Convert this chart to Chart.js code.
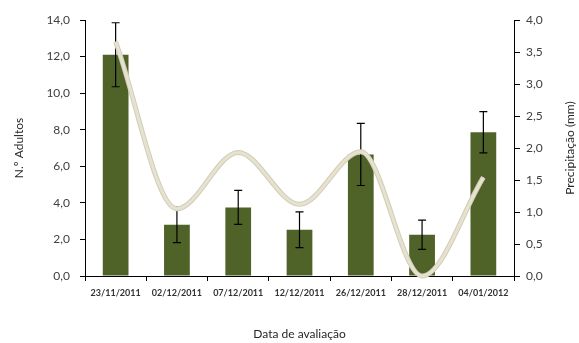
<!DOCTYPE html>
<html>
<head>
<meta charset="utf-8">
<script src="https://cdn.jsdelivr.net/npm/chart.js@4"></script>
<style>
  html, body { margin: 0; padding: 0; background: #fff; }
  #wrap { width: 579px; height: 343px; }
</style>
</head>
<body>
<div id="wrap"><canvas id="grafico" width="579" height="343"></canvas></div>
<script>
// datas de avaliacao
const datas = ['23/11/2011', '02/12/2011', '07/12/2011', '12/12/2011', '26/12/2011', '28/12/2011', '04/01/2012']
// n.º adultos (media) e erro padrao
const adultos = [12.1, 2.8, 3.75, 2.53, 6.65, 2.26, 7.86]
const erro = [1.75, 0.97, 0.93, 0.98, 1.7, 0.8, 1.13]
// precipitacao (mm)
const precipitacao = [3.66, 1.05, 1.93, 1.12, 1.94, 0.0, 1.54]

const virgula = v => Number(v).toFixed(1).replace('.', ',')
const fonte = 'Lato, "Open Sans", sans-serif'

// desenha as barras de erro depois das barras
const barrasErro = {
    id: 'barrasErro',
    afterDatasetDraw(chart, args) {
        if (args.index !== 0) return
        const ctx = chart.ctx
        const y = chart.scales.y
        ctx.save()
        ctx.strokeStyle = '#000'
        ctx.lineWidth = 1.2
        args.meta.data.forEach((bar, i) => {
            const top = y.getPixelForValue(adultos[i] + erro[i])
            const bot = y.getPixelForValue(adultos[i] - erro[i])
            ctx.beginPath()
            ctx.moveTo(bar.x, top); ctx.lineTo(bar.x, bot)
            ctx.moveTo(bar.x - 4, top); ctx.lineTo(bar.x + 4, top)
            ctx.moveTo(bar.x - 4, bot); ctx.lineTo(bar.x + 4, bot)
            ctx.stroke()
        })
        ctx.restore()
    }
}

// titulo do eixo direito, lido de baixo para cima como no original
const tituloDireito = {
    id: 'tituloDireito',
    afterDraw(chart) {
        const ctx = chart.ctx
        const area = chart.chartArea
        ctx.save()
        ctx.translate(570, (area.top + area.bottom) / 2)
        ctx.rotate(-Math.PI / 2)
        ctx.font = '12px ' + fonte
        ctx.fillStyle = '#262626'
        ctx.textAlign = 'center'
        ctx.textBaseline = 'middle'
        ctx.fillText('Precipitação (mm)', 0, 0)
        ctx.restore()
    }
}

new Chart(document.getElementById('grafico'), {
    type: 'bar',
    data: {
        labels: datas,
        datasets: [
            {
                label: 'N.º Adultos',
                data: adultos,
                backgroundColor: '#4f6228',
                barPercentage: 0.42,
                categoryPercentage: 1,
                yAxisID: 'y',
                order: 3
            },
            {
                type: 'line',
                label: 'borda',
                data: precipitacao,
                borderColor: '#d3cdb5',
                borderWidth: 5,
                pointRadius: 0,
                cubicInterpolationMode: 'monotone',
                yAxisID: 'y1',
                clip: false,
                order: 2
            },
            {
                type: 'line',
                label: 'Precipitação',
                data: precipitacao,
                borderColor: '#e6e2d1',
                borderWidth: 3,
                pointRadius: 0,
                cubicInterpolationMode: 'monotone',
                yAxisID: 'y1',
                clip: false,
                order: 1
            }
        ]
    },
    options: {
        responsive: false,
        animation: false,
        layout: { padding: { left: 8, right: 0, top: 20, bottom: 0 } },
        plugins: {
            legend: { display: false },
            tooltip: { enabled: false }
        },
        scales: {
            x: {
                grid: { drawOnChartArea: false, color: '#000', tickLength: 5 },
                border: { color: '#000', width: 1 },
                ticks: { color: '#333', font: { family: fonte, size: 9, weight: 'bold' }, padding: 7, maxRotation: 0, autoSkip: false },
                title: { display: true, text: 'Data de avaliação', color: '#262626', font: { family: fonte, size: 12 }, padding: { top: 0, bottom: 2 } },
                afterFit(s) { s.height = 67 }
            },
            y: {
                position: 'left',
                min: 0, max: 14,
                ticks: { stepSize: 2, callback: virgula, color: '#404040', font: { family: fonte, size: 12 }, padding: 10 },
                grid: { drawOnChartArea: false, color: '#000', tickLength: 5 },
                border: { color: '#000', width: 1 },
                title: { display: true, text: 'N.º Adultos', color: '#262626', font: { family: fonte, size: 12 }, padding: 4 },
                afterFit(s) { s.width = 77 }
            },
            y1: {
                position: 'right',
                min: 0, max: 4,
                ticks: { stepSize: 0.5, callback: virgula, color: '#404040', font: { family: fonte, size: 12 }, padding: 6 },
                grid: { drawOnChartArea: false, color: '#000', tickLength: 6 },
                border: { color: '#000', width: 1 },
                afterFit(s) { s.width = 65 }
            }
        }
    },
    plugins: [barrasErro, tituloDireito]
})
</script>
</body>
</html>
